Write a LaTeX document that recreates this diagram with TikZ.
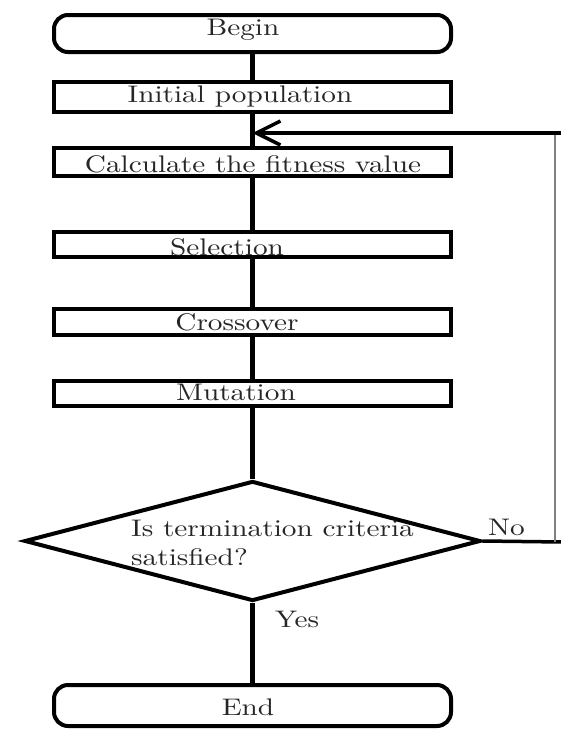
\documentclass[tikz,border=0pt]{standalone}
\usepackage{graphicx}
\usepackage{fontspec}
\setmainfont{lmroman10-regular.otf}
\usetikzlibrary{shapes.geometric,arrows.meta}
\newcommand\wtxt[1]{\scalebox{1.22}[1]{#1}}
\begin{document}
\begin{tikzpicture}[x=1pt,y=-1pt,
  box/.style={draw, line width=4pt, minimum width=397pt, inner sep=0pt},
  term/.style={box, rounded corners=14pt},
  txt/.style={font=\fontsize{24}{29}\selectfont, text=black!85, inner sep=0pt, anchor=base},
  flow/.style={line width=4.5pt},
  loop/.style={line width=3.5pt},
  ]
\path[use as bounding box, fill=white] (0,0) rectangle (560,731);
% shapes
\node[term, minimum height=37pt] (begin) at (252.5,33.5) {};
\node[box, minimum height=30pt] (init) at (252.5,96.5) {};
\node[box, minimum height=28pt] (calc) at (252.5,162) {};
\node[box, minimum height=25pt] (sel) at (252.5,244.5) {};
\node[box, minimum height=26pt] (cross) at (252.5,322) {};
\node[box, minimum height=25pt] (mut) at (252.5,393.5) {};
\node[diamond, draw, line width=4pt, minimum width=456pt, minimum height=120pt, inner sep=0pt] (dec) at (252.5,541) {};
\node[term, minimum height=41pt] (end) at (252.5,705.5) {};
% texts
\node[txt] (beginT) at (243,35) {\wtxt{Begin}};
\node[txt] (initT) at (240,102) {\wtxt{Initial population}};
\node[txt] (calcT) at (253,172) {\wtxt{Calculate the fitness value}};
\node[txt] (selT) at (227,255) {\wtxt{Selection}};
\node[txt] (crossT) at (237,330) {\wtxt{Crossover}};
\node[txt] (mutT) at (236,400) {\wtxt{Mutation}};
\node[txt] (endT) at (248,715) {\wtxt{End}};
\node[txt, anchor=base west, align=left] (decT) at (131,565) {\wtxt{Is termination criteria}\\\wtxt{satisfied?}};
\node[txt, anchor=base west] (no) at (488,535) {\wtxt{No}};
\node[txt, anchor=base west] (yes) at (275,627) {\wtxt{Yes}};
% connectors
\draw[flow] (begin.south) -- (init.north);
\draw[flow] (init.south) -- (calc.north);
\draw[flow] (calc.south) -- (sel.north);
\draw[flow] (sel.south) -- (cross.north);
\draw[flow] (cross.south) -- (mut.north);
\draw[flow] (mut.south) -- (dec.north);
\draw[flow] (dec.south) -- (end.north);
% loop back
\coordinate (loopin) at (252.5,133);
\coordinate (loopR) at (562,133);
\coordinate (noR) at (562,542);
\coordinate (vtop) at (555,133);
\coordinate (vbot) at (555,542);
\draw[loop] (dec.east) -- (noR);
\draw[gray, line width=1.2pt] (vtop) -- (vbot);
\draw[loop, -{Straight Barb[length=24pt, width=24pt]}] (loopR) -- (loopin);
\end{tikzpicture}
\end{document}
